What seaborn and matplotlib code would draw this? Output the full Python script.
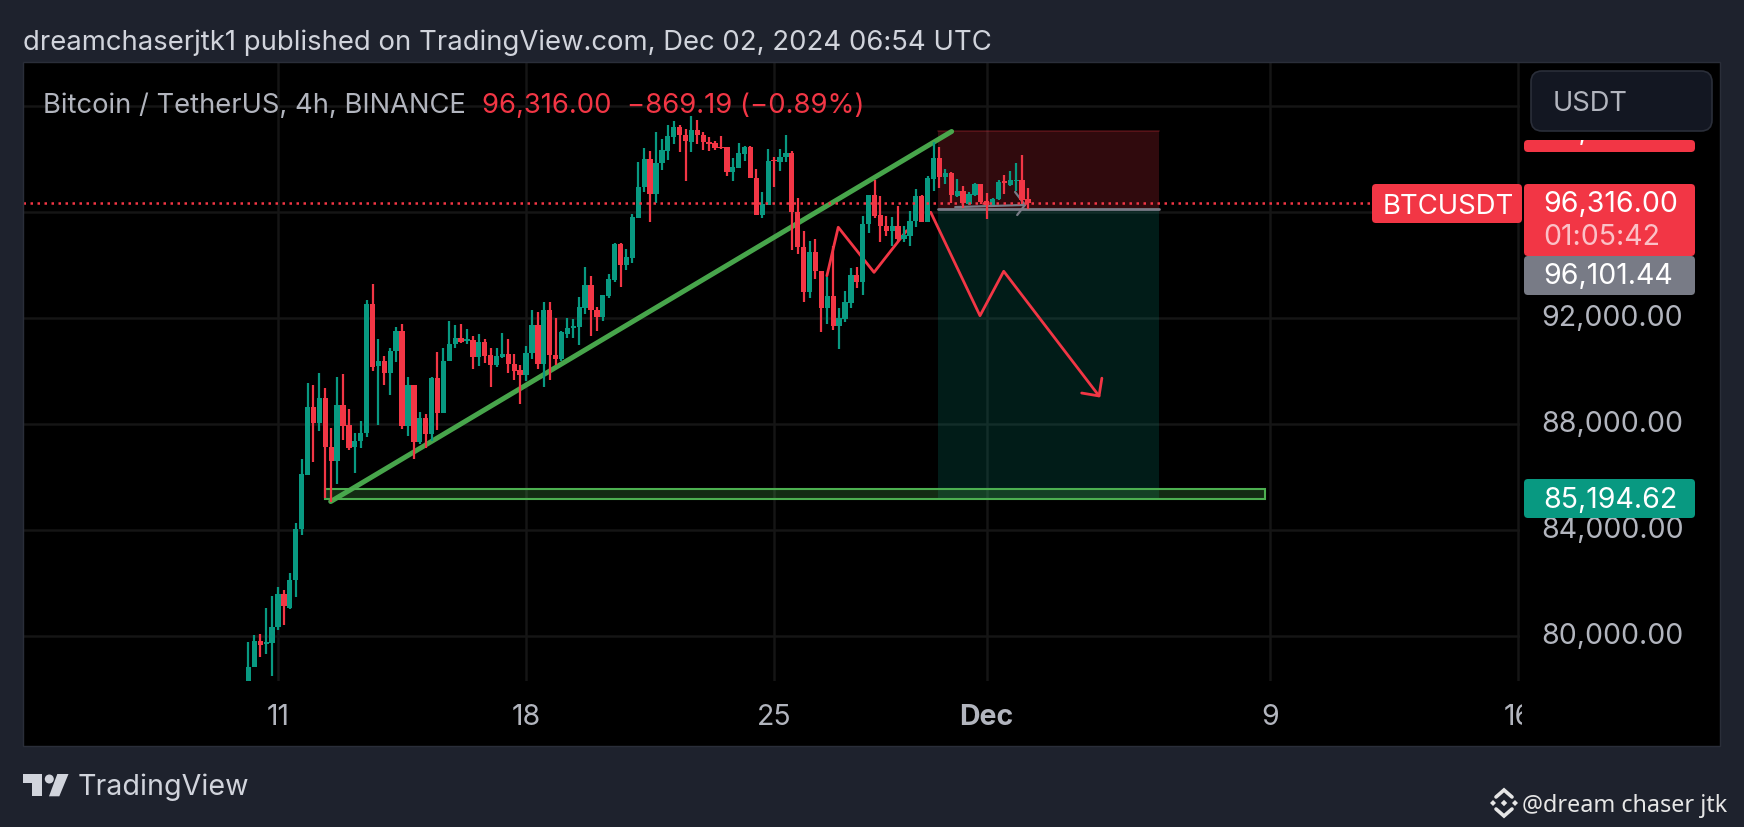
import numpy as np
import pandas as pd
import seaborn as sns
import matplotlib
matplotlib.use("Agg")
import matplotlib.pyplot as plt
from matplotlib.patches import Rectangle, FancyBboxPatch, Polygon, Circle
from matplotlib.transforms import Bbox

# ---------- data ----------
start_time = "2024-11-10 04:00"
opens = [78320,78820,79820,79700,79740,80350,81600,81070,82120,84030,86080,88620,88030,88970,87130,86610,88690,87940,87110,87340,
 87650,92510,90170,90360,89920,90740,91480,87910,89450,87300,88200,87600,89730,88400,90350,91000,91240,91140,91150,90500,
 91100,90580,90210,90510,90650,90250,90010,89830,90660,91710,90250,92290,90600,90440,91400,91620,91650,92360,93230,92300,
 92030,92830,93420,94760,93990,94250,95770,96920,97980,96670,97820,98300,98830,99200,98870,98630,99080,98890,98640,98580,
 98420,98420,97480,97650,98180,98440,97260,95890,96260,97950,97870,98040,98200,95980,94670,92980,94470,93770,92350,92830,
 91670,91950,92570,93610,93360,95530,96630,95870,95460,95280,95470,94970,95090,95640,96600,95620,97230,98030,97310,97460,
 96580,96780,96290,96630,97030,96400,96250,96470,97160,96990,97150,97200,96480]
highs = [79760,80040,80080,81040,81490,81830,81720,82370,84250,86660,89530,89470,89930,89340,87840,89760,89870,88540,87670,88090,
 92660,93260,91180,90540,90840,91660,91770,89760,89450,88450,88360,89760,90690,90840,91860,91720,91760,91590,91300,91390,
 91180,90860,90860,91440,91180,90630,90200,90930,92280,92210,92580,92580,91970,91510,92000,91950,92780,93900,93560,92390,
 92860,93660,94810,94810,94590,95910,97860,98390,98280,98990,98740,99270,99420,99270,99100,99600,99450,98990,98830,98650,
 98840,98450,98010,98580,98470,98470,97610,96730,98370,98050,98370,98870,98300,96500,95280,94910,94970,93770,93550,94720,
 92350,93020,93860,93900,95850,96630,97210,96580,95850,95790,96200,95450,96010,96860,96630,97360,98620,98430,97610,97480,
 97230,96980,96730,97060,97040,96690,96500,97180,97380,97540,97840,98140,96900]
lows = [78320,78820,79220,79320,78480,80230,80410,81020,81470,83820,86070,86560,87710,85220,85060,85740,87390,87010,86140,87070,
 87510,89990,87960,89460,89090,90320,87820,87540,86670,87230,87080,87360,87760,88400,90350,90850,91050,91020,90070,90170,
 90300,89370,90150,90490,89920,89660,88730,89630,90450,90070,89370,89660,90230,90380,91230,91230,90970,92140,91320,91510,
 91890,92730,93330,93140,93800,94060,95770,96730,95620,96330,97550,97930,98530,98240,97150,98240,98550,98330,98300,98330,
 98370,97350,97170,97640,97890,97260,95890,95750,96250,96910,97520,97860,94550,94400,92600,92740,93460,91470,91760,91550,
 90820,91820,92360,93120,92870,95200,95750,94840,95070,94690,94870,94840,94720,95410,95620,95620,96790,96880,97040,96330,
 96550,96130,96230,96580,96290,95720,96230,96450,96670,96960,96790,96290,96100]
closes = [78820,79820,79660,79760,80350,81600,81120,82120,84030,86100,88620,88030,88970,87130,86610,88700,87910,87100,87350,87670,
 92520,90160,90360,89920,90750,91480,87910,89450,87310,88200,87600,89730,88400,90370,91000,91240,91080,91190,90500,91100,
 90550,90210,90540,90650,90250,90000,89830,90660,91720,90250,92290,90600,90440,91450,91620,91670,92390,93230,92300,92030,
 92860,93460,94760,93990,94280,95790,96930,97980,96670,97840,98330,98840,99200,98870,98650,99080,98890,98640,98550,98400,
 98390,97480,97670,98200,98440,97260,95890,96280,97910,97900,98050,98200,95980,94650,92980,94470,93770,92350,92830,91700,
 91970,92600,93610,93360,95550,96630,95850,95460,95280,95460,94970,95120,95660,96590,95620,97260,98010,97320,97460,96630,
 96780,96310,96650,97040,96380,96230,96480,97130,97080,97180,97210,96420,96316]

tick_days = [0, 7, 14, 20, 28, 35]
tick_names = ["11", "18", "25", "Dec", "9", "16"]
price_ticks = [80000, 84000, 88000, 92000, 96000, 100000]
hidden_ticks = [96000, 100000]   # sit under the price tags in the reference
last_price = 96316.00
entry_price = 96101.44
target_price = 85194.62
stop_price = 99020

trend_days = [1.487, 19.01]
trend_prices = [85070, 99020]
path1_days = [15.49, 15.81, 16.82, 17.74]
path1_prices = [93580, 95410, 93710, 95280]
path2_days = [18.42, 19.81, 20.48, 23.17]
path2_prices = [95975, 92075, 93750, 89050]
head2_days = [23.25, 23.17, 22.68]
head2_prices = [89720, 89050, 89160]
gray_days = [19.11, 21.08]
gray_prices = [96170, 96250]
grayhead_days = [20.80, 21.08, 20.86]
grayhead_prices = [96740, 96250, 95870]
zone_days = [18.63, 24.87]
box_days = [1.32, 27.85]
box_prices = [85160, 85540]

# ---------- style ----------
W, H = 1744, 828
UP, DOWN = "#089981", "#F23645"
sns.set_theme(style="dark")
plt.rcParams["font.family"] = ["Inter", "DejaVu Sans"]
GREEN_LINE = "#4CAF50"
TXT = "#B2B5BE"
FS = 20.5

fig = plt.figure(figsize=(W / 100, H / 100), dpi=100, facecolor="#1E222D")
fig.add_artist(Rectangle((23 / W, 1 - 747 / H), (1720 - 23) / W, (747 - 63) / H,
                         transform=fig.transFigure, fc="black", lw=0, zorder=-1))
ax = fig.add_axes([23 / W, 1 - 682 / H, (1520 - 23) / W, (682 - 63) / H], zorder=1)
ax.set_facecolor("black")

times = pd.date_range(start_time, periods=len(opens), freq="4h")
days = (times - pd.Timestamp("2024-11-11")) / pd.Timedelta(days=1)
bars = pd.DataFrame(dict(day=days, o=opens, h=highs, l=lows, c=closes))
bars["color"] = np.where(bars.c >= bars.o, UP, DOWN)
ax.set_xlim(-7.197, 35.05)
ax.set_ylim(78303, 101640)

# grid
ax.set_xticks(tick_days, tick_names)
ax.set_yticks(price_ticks, ["" if p in hidden_ticks else f"{p:,.2f}" for p in price_ticks])
ax.grid(True, color="#151515", lw=1.8)
ax.set_axisbelow(True)
for s in ax.spines.values():
    s.set_visible(False)
ax.yaxis.tick_right()
ax.tick_params(axis="x", length=0, pad=16, labelsize=FS, labelcolor=TXT)
ax.tick_params(axis="y", length=0, pad=15.5, labelsize=FS, labelcolor=TXT)
ax.get_xticklabels()[3].set_fontweight("bold")
for lab in ax.get_yticklabels():
    lab.set_verticalalignment("center")

# position zones
ax.axhspan(entry_price, stop_price, *[(d + 7.197) / 42.247 for d in zone_days],
           fc=DOWN, alpha=0.20, lw=0, zorder=1)
ax.axhspan(target_price, entry_price, *[(d + 7.197) / 42.247 for d in zone_days],
           fc=UP, alpha=0.19, lw=0, zorder=1)
ax.plot(zone_days, [stop_price] * 2, color=DOWN, alpha=0.25, lw=1.2, zorder=1.1)
ax.plot(zone_days, [entry_price] * 2, color="#787B86", lw=2, zorder=1.2)

# green range box
ax.add_patch(Rectangle((box_days[0], box_prices[0]), box_days[1] - box_days[0], box_prices[1] - box_prices[0],
                       fc=(0.30, 0.69, 0.31, 0.25), ec=GREEN_LINE, lw=1.5, zorder=1.5))

# drawings sit behind the candles
sns.lineplot(x=gray_days, y=gray_prices, sort=False, estimator=None, color="#787B86", lw=1.6, ax=ax, zorder=1.6)
sns.lineplot(x=grayhead_days, y=grayhead_prices, sort=False, estimator=None, color="#787B86", lw=1.6, ax=ax, zorder=1.6)
sns.lineplot(x=trend_days, y=trend_prices, sort=False, estimator=None, color=GREEN_LINE, lw=3.6, alpha=0.95,
             solid_capstyle="round", ax=ax, zorder=1.7)
for dx, dy in [(path1_days, path1_prices), (path2_days, path2_prices), (head2_days, head2_prices)]:
    sns.lineplot(x=dx, y=dy, sort=False, estimator=None, color=DOWN, lw=2.0, ax=ax, zorder=1.7)

# candles
ax.vlines(bars.day, bars.l, bars.h, colors=bars.color, lw=1.6, zorder=2)
ax.bar(bars.day, (bars.c - bars.o).abs().clip(lower=25), bottom=bars[["o", "c"]].min(axis=1),
       width=0.15, color=bars.color, lw=0, zorder=2.1)

# last-price line
ax.axhline(last_price, color=DOWN, lw=1.8, ls=(0, (1, 1.8)), zorder=3)
ax.set_xlabel("")
ax.set_ylabel("")

# ---------- overlay in pixel layout ----------
ov = fig.add_axes([0, 0, 1, 1], zorder=5)
ov.set_xlim(0, W)
ov.set_ylim(H, 0)
ov.axis("off")
ov.patch.set_alpha(0)

ov.add_patch(Rectangle((1522, 683), 197, 63.5, fc="black", lw=0))  # cuts the last date label
ov.add_patch(Rectangle((23, 63), 1697, 684, fc="none", ec="#2A2E39", lw=1))  # panel border


def tag(x0, y0, x1, y1, color, z=2):
    ov.add_patch(FancyBboxPatch((x0, y0), x1 - x0, y1 - y0, boxstyle="round,pad=0,rounding_size=4",
                                fc=color, lw=0, zorder=z))


# clipped stop label at top: only the tail of the comma shows below the currency box
tag(1524, 141, 1695, 153, DOWN)
stop_text = ov.text(1543, 139.6, f"{stop_price:,.2f}", color="white", fontsize=FS, zorder=3)
stop_text.set_clip_on(True)
stop_text.set_clip_box(Bbox([[1524, H - 153], [1695, H - 141]]))
ov.add_patch(FancyBboxPatch((1531, 72), 181, 60, boxstyle="round,pad=0,rounding_size=11",
                            fc="#131722", ec="#2A2E39", lw=1.2, zorder=5))
ov.text(1553, 111, "USDT", color=TXT, fontsize=19.7, zorder=6)

tag(1372, 185, 1522, 224, DOWN)
ov.text(1383, 214, "BTCUSDT", color="white", fontsize=19.8, zorder=3)
tag(1524, 185, 1695, 257, DOWN)
ov.text(1543, 212, f"{last_price:,.2f}", color="white", fontsize=FS, zorder=3)
ov.text(1543, 245, "01:05:42", color="#FBC1C7", fontsize=FS, zorder=3)
tag(1524, 257, 1695, 296, "#787B86")
ov.text(1543, 284, f"{entry_price:,.2f}", color="white", fontsize=FS, zorder=3)
tag(1524, 480, 1695, 519, UP)
ov.text(1543, 507.7, f"{target_price:,.2f}", color="white", fontsize=FS, zorder=3)

# header and legend
ov.text(23, 50, "dreamchaserjtk1 published on TradingView.com, Dec 02, 2024 06:54 UTC",
        color="#D1D4DC", fontsize=19.8)
ov.text(43, 113, "Bitcoin / TetherUS, 4h, BINANCE", color=TXT, fontsize=19.7)
ov.text(482, 113, "96,316.00  \u2212869.19 (\u22120.89%)", color=DOWN, fontsize=19.8)

# TradingView logo
LOGO = "#D1D4DC"
ov.add_patch(Polygon([(23, 775), (41.7, 775), (41.7, 797.3), (32.3, 797.3), (32.3, 784), (23, 784)], fc=LOGO, lw=0))
ov.add_patch(Circle((49.3, 780), 4.5, fc=LOGO, lw=0))
ov.add_patch(Polygon([(57.3, 775), (68.5, 775), (59.3, 797.3), (49, 797.3)], fc=LOGO, lw=0))
ov.text(78, 795, "TradingView", color=LOGO, fontsize=20.6)

# watermark
WM = "#E6E6E6"
cx, cy = 1504, 804
for x, y, r in [(cx, cy, 3.2), (cx - 11, cy, 3), (cx + 11, cy, 3)]:
    ov.add_patch(Polygon([(x - r, y), (x, y - r), (x + r, y), (x, y + r)], fc=WM, lw=0))
ov.plot([cx - 8, cx, cx + 8], [cy - 6, cy - 13, cy - 6], color=WM, lw=2.6, solid_joinstyle="miter")
ov.plot([cx - 8, cx, cx + 8], [cy + 6, cy + 13, cy + 6], color=WM, lw=2.6, solid_joinstyle="miter")
ov.text(1522, 812, "@dream chaser jtk", color=WM, fontsize=16.8, fontfamily=["Noto Sans", "DejaVu Sans"], fontweight="medium")

fig.savefig("out.png", dpi=100, facecolor=fig.get_facecolor())
